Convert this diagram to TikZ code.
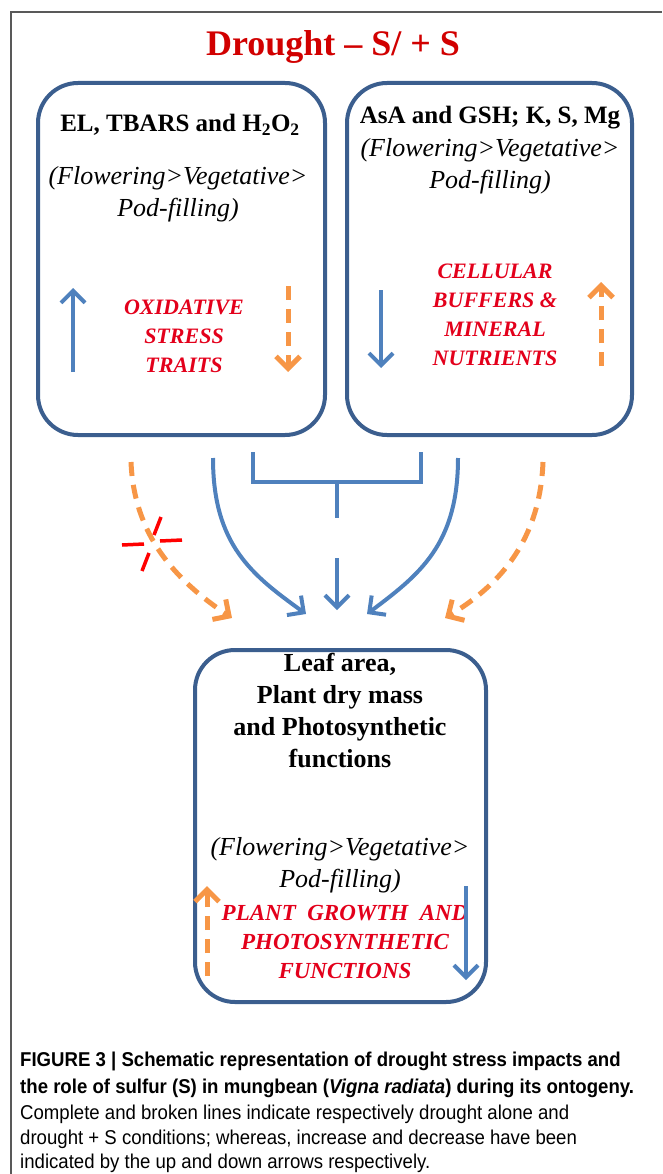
\documentclass[tikz,border=0pt]{standalone}
\usepackage{fontspec}
\setmainfont{Liberation Serif}
\newfontfamily\capfont{Liberation Sans}[FakeStretch=0.93]
\usepackage{xcolor}
\usetikzlibrary{arrows.meta}
\definecolor{boxblue}{HTML}{3B5E8E}
\definecolor{arrblue}{HTML}{4F81BD}
\definecolor{dorange}{HTML}{F79646}
\definecolor{txtred}{HTML}{E3001B}
\definecolor{ttlred}{HTML}{D10000}
\tikzset{
box/.style={draw=boxblue,line width=4pt,rounded corners=40pt,inner sep=0pt},
headtxt/.style={font=\fontsize{25}{32}\selectfont\bfseries,align=center},
stagetxt/.style={font=\fontsize{26}{32}\selectfont\itshape,align=center},
redtxt/.style={text=txtred,font=\fontsize{22}{29}\selectfont\bfseries\itshape,align=center},
solidarr/.style={arrblue,line width=4pt,-{Straight Barb[length=12pt,width=24pt]}},
dasharr/.style={dorange,line width=5pt,dash pattern=on 14pt off 9pt,-{Straight Barb[length=12pt,width=24pt]}},
captxt/.style={anchor=base west,inner sep=0pt,font=\capfont\fontsize{20}{25}\selectfont}
}
\begin{document}
\begin{tikzpicture}[x=1pt,y=-1pt]
\useasboundingbox (0,0) rectangle (662,1174);
\draw[line width=1.5pt,black!65](11,1174)--(11,12)--(662,12);
\node[text=ttlred,font=\fontsize{36}{40}\selectfont\bfseries] (ttl) at (333,47) {Drought – S/ + S};
% boxes
\node[box,minimum width=287pt,minimum height=352pt] (lbox) at (181.5,259) {};
\node[box,minimum width=285pt,minimum height=352pt] (rbox) at (489.5,259) {};
\node[box,minimum width=291pt,minimum height=352pt] (bbox) at (340.5,826) {};
% left box
\node[headtxt] (lhead) at (180,125) {EL, TBARS and H\textsubscript{2}O\textsubscript{2}};
\node[stagetxt] (lstage) at (178,194) {(Flowering>Vegetative>\\Pod-filling)};
\node[redtxt] (lred) at (184,336) {OXIDATIVE\\STRESS\\TRAITS};
\coordinate (lu0) at (73,372); \coordinate (lu1) at (73,288);
\coordinate (ld0) at (288,286); \coordinate (ld1) at (288,372);
\draw[solidarr](lu0)--(lu1);
\draw[dasharr](ld0)--(ld1);
% right box
\node[headtxt] (rhead) at (490,118) {AsA and GSH; K, S, Mg};
\node[stagetxt] (rstage) at (490,166) {(Flowering>Vegetative>\\Pod-filling)};
\node[redtxt] (rred) at (495,315) {CELLULAR\\BUFFERS \&\\MINERAL\\NUTRIENTS};
\coordinate (rd0) at (381,290); \coordinate (rd1) at (381,368);
\coordinate (ru0) at (601,366); \coordinate (ru1) at (601,282);
\draw[solidarr](rd0)--(rd1);
\draw[dasharr](ru0)--(ru1);
% bottom box
\node[headtxt,font=\fontsize{26}{32}\selectfont\bfseries] (bhead) at (340,710) {Leaf area,\\Plant dry mass\\and Photosynthetic\\functions};
\node[stagetxt] (bstage) at (340,865) {(Flowering>Vegetative>\\Pod-filling)};
\node[redtxt,font=\fontsize{23}{29}\selectfont\bfseries\itshape] (bred) at (345,942) {PLANT\ \ GROWTH\ \ AND\\PHOTOSYNTHETIC\\FUNCTIONS};
\coordinate (bu0) at (207,976); \coordinate (bu1) at (207,886);
\coordinate (bd0) at (466,886); \coordinate (bd1) at (466,980);
\draw[dasharr](bu0)--(bu1);
\draw[solidarr](bd0)--(bd1);
% connectors
\coordinate (bl) at (253,452); \coordinate (br) at (421,452);
\coordinate (bm) at (337,482); \coordinate (bs) at (337,518);
\draw[arrblue,line width=4pt](bl)|-(bm)-|(br);
\draw[arrblue,line width=4pt](bm)--(bs);
\coordinate (m0) at (337,558); \coordinate (m1) at (337,610);
\draw[solidarr](m0)--(m1);
\coordinate (cl0) at (213,458); \coordinate (cl1) at (306,614);
\coordinate (cr0) at (458,458); \coordinate (cr1) at (367,614);
\draw[solidarr](cl0)..controls(213,545)and(252,575)..(cl1);
\draw[solidarr](cr0)..controls(458,545)and(419,575)..(cr1);
\coordinate (ol0) at (131,462); \coordinate (ol1) at (232,618);
\coordinate (or0) at (543,462); \coordinate (or1) at (445,618);
\draw[dasharr](ol0)..controls(134,535)and(175,580)..(ol1);
\draw[dasharr](or0)..controls(540,540)and(500,585)..(or1);
% red cross
\draw[red,line width=3.5pt](122,545)--(144,544)(160,541)--(182,540);
\draw[red,line width=3.5pt](161,517)--(154,535)(149,553)--(142,571);
% caption
\node[captxt] (cap1) at (20,1066) {\bfseries FIGURE 3 | Schematic representation of drought stress impacts and};
\node[captxt] (cap2) at (20,1093) {\bfseries the role of sulfur (S) in mungbean (\textit{Vigna radiata}) during its ontogeny.};
\node[captxt] (cap3) at (20,1119) {Complete and broken lines indicate respectively drought alone and};
\node[captxt] (cap4) at (20,1144) {drought + S conditions; whereas, increase and decrease have been};
\node[captxt] (cap5) at (20,1168) {indicated by the up and down arrows respectively.};
\end{tikzpicture}
\end{document}
